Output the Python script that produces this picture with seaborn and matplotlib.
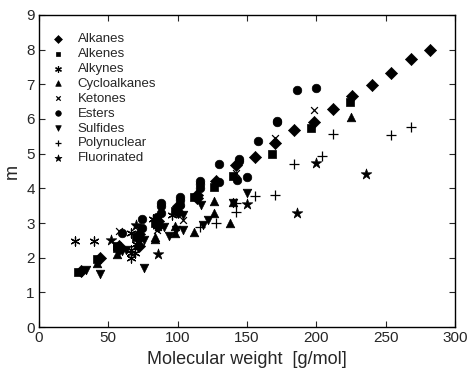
import matplotlib
matplotlib.use("Agg")
import matplotlib.pyplot as plt
import seaborn as sns
import pandas as pd

# Segment number m versus molecular weight for several compound classes
alkanes_mw = [30, 44, 58, 72, 86, 100, 114, 128, 142, 156, 170, 184, 198, 212, 226, 240, 254, 268, 282,
              58, 72, 72, 86, 100, 114]
alkanes_m = [1.61, 2.00, 2.33, 2.69, 3.06, 3.48, 3.82, 4.21, 4.66, 4.91, 5.31, 5.69, 5.90, 6.29, 6.65, 6.98, 7.33, 7.72, 7.98,
             2.26, 2.56, 2.35, 2.92, 3.31, 3.72]

alkenes_mw = [28, 42, 56, 70, 84, 98, 112, 126, 140, 168, 196, 224, 56]
alkenes_m = [1.59, 1.96, 2.29, 2.60, 2.99, 3.35, 3.74, 4.03, 4.37, 4.99, 5.75, 6.50, 2.35]

alkynes_mw = [26, 40, 66, 66, 66, 66, 70, 82, 85, 96, 69]
alkynes_m = [2.48, 2.48, 2.22, 1.98, 2.14, 2.72, 2.41, 3.13, 2.91, 3.23, 2.13]

cyclo_mw = [42, 56, 84, 84, 98, 98, 112, 126, 126, 138, 140, 225]
cyclo_m = [1.84, 2.10, 2.59, 2.53, 2.70, 2.91, 2.73, 3.28, 3.64, 2.99, 3.61, 6.05]

ketones_mw = [58, 69, 85, 86, 104, 142, 170, 198]
ketones_m = [2.76, 2.89, 2.81, 2.88, 3.10, 4.45, 5.44, 6.26]

esters_mw = [60, 74, 74, 85, 88, 88, 88, 102, 102, 102, 116, 116, 116, 130, 130, 143, 144, 144, 150, 158, 172, 172, 186, 200]
esters_m = [2.70, 3.13, 2.87, 3.18, 3.57, 3.50, 3.28, 3.76, 3.52, 3.66, 4.14, 4.20, 4.00, 4.19, 4.70, 4.24, 4.84, 4.79, 4.34, 5.37, 5.92, 5.95, 6.84, 6.90]

sulfides_mw = [34, 44, 76, 60, 63, 76, 90, 94, 99, 104, 104, 117, 118, 122, 140, 150]
sulfides_m = [1.66, 1.53, 1.69, 2.20, 2.22, 2.51, 2.89, 2.62, 2.80, 2.80, 3.23, 3.52, 2.94, 3.10, 3.57, 3.88]

polynuc_mw = [116, 128, 142, 142, 156, 170, 184, 204, 212, 254, 268]
polynuc_m = [2.89, 2.99, 3.31, 3.59, 3.79, 3.81, 4.69, 4.93, 5.57, 5.54, 5.77]

fluor_mw = [52, 70, 86, 150, 186, 200, 236]
fluor_m = [2.52, 2.94, 2.10, 3.55, 3.28, 4.74, 4.41]

classes = ["Alkanes", "Alkenes", "Alkynes", "Cycloalkanes", "Ketones",
           "Esters", "Sulfides", "Polynuclear", "Fluorinated"]
series = [(alkanes_mw, alkanes_m), (alkenes_mw, alkenes_m), (alkynes_mw, alkynes_m),
          (cyclo_mw, cyclo_m), (ketones_mw, ketones_m), (esters_mw, esters_m),
          (sulfides_mw, sulfides_m), (polynuc_mw, polynuc_m), (fluor_mw, fluor_m)]

markers = {"Alkanes": ("D", 38, True), "Alkenes": ("s", 28, True), "Alkynes": ((6, 2, 0), 42, False),
           "Cycloalkanes": ("^", 38, True), "Ketones": ("x", 24, False), "Esters": ("o", 38, True),
           "Sulfides": ("v", 38, True), "Polynuclear": ("+", 42, False), "Fluorinated": ("*", 64, True)}

frames = []
for name, (mw, m) in zip(classes, series):
    frames.append(pd.DataFrame({"mw": mw, "m": m, "cls": name}))
df = pd.concat(frames, ignore_index=True)

sns.set_style("white")
plt.rcParams["font.family"] = ["Liberation Sans", "DejaVu Sans"]

fig = plt.figure(figsize=(4.7, 3.73), dpi=100)
ax = fig.add_axes([0.083, 0.123, 0.885, 0.837])

for name in classes:
    sub = df[df["cls"] == name]
    mk, size, filled = markers[name]
    if filled:
        sns.scatterplot(data=sub, x="mw", y="m", marker=mk, s=size, color="black",
                        edgecolor="black", linewidth=0.5, label=name, ax=ax)
    else:
        sns.scatterplot(data=sub, x="mw", y="m", marker=mk, s=size, color="black",
                        linewidth=0.9, label=name, ax=ax)

ax.set_xlim(0, 300)
ax.set_ylim(0, 9)
ax.set_xticks(range(0, 301, 50))
ax.set_yticks(range(0, 10))
ax.set_xlabel("Molecular weight  [g/mol]", fontsize=13, labelpad=4)
ax.set_ylabel("m", fontsize=13, labelpad=4)
ax.tick_params(direction="in", length=4, width=0.8, labelsize=11,
               top=True, right=True, bottom=True, left=True, pad=3)
for sp in ax.spines.values():
    sp.set_visible(True)
    sp.set_color("black")
    sp.set_linewidth(1.0)

leg = ax.legend(loc="upper left", frameon=False, fontsize=9.5, handletextpad=0.5,
                labelspacing=0.2, borderaxespad=0.5, markerscale=0.65,
                bbox_to_anchor=(-0.015, 0.98))

fig.savefig("out.png", dpi=100)
